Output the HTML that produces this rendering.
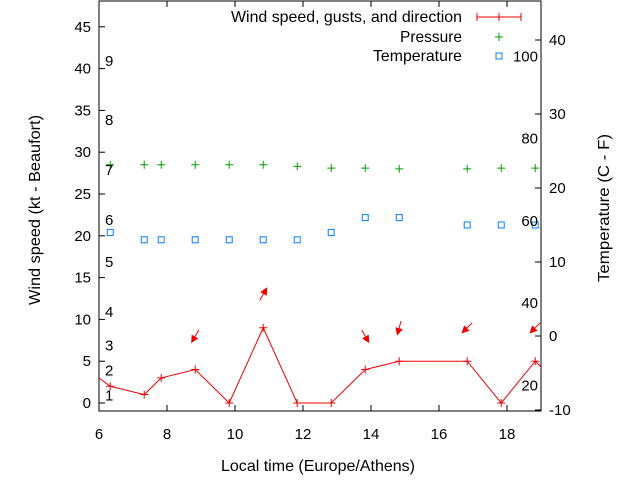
<!DOCTYPE html>
<html><head><meta charset="utf-8"><style>
body{margin:0;background:#fff}
svg{display:block;font-family:"Liberation Sans",sans-serif;font-size:15px}
.big{font-size:16px}
</style></head><body>
<svg id="chart" width="640" height="480" viewBox="0 0 640 480" xmlns="http://www.w3.org/2000/svg">
<defs><clipPath id="clip"><rect x="99" y="1" width="442" height="410"/></clipPath></defs>
<rect x="99" y="1" width="442" height="410" fill="none" stroke="#000"/>
<g id="axes"></g>
<g id="marks" clip-path="url(#clip)"></g>
<g id="labels"></g>
<text class="big" x="221" y="471" textLength="194" lengthAdjust="spacingAndGlyphs">Local time (Europe/Athens)</text>
<text class="big" transform="translate(40,210) rotate(-90)" text-anchor="middle" textLength="190" lengthAdjust="spacingAndGlyphs">Wind speed (kt - Beaufort)</text>
<text class="big" transform="translate(609,208) rotate(-90)" text-anchor="middle" textLength="148" lengthAdjust="spacingAndGlyphs">Temperature (C - F)</text>
<g>
<text class="big" x="462" y="22" text-anchor="end" textLength="231" lengthAdjust="spacingAndGlyphs">Wind speed, gusts, and direction</text>
<path d="M477 17H521M477 13V21M521 13V21M499 13V21" stroke="#e00"/>
<text class="big" x="462" y="42" text-anchor="end" textLength="62" lengthAdjust="spacingAndGlyphs">Pressure</text>
<path d="M495 37H503M499 33V41" stroke="#00a000"/>
<text class="big" x="462" y="61" text-anchor="end" textLength="89" lengthAdjust="spacingAndGlyphs">Temperature</text>
<rect x="496" y="53" width="6" height="6" fill="none" stroke="#0080ff"/>
</g>
</svg>
<script>
const times=[5.83,6.33,7.33,7.83,8.83,9.83,10.83,11.83,12.83,13.83,14.83,16.83,17.83,18.83,19.33];
const windKt=[3.5,2,1,3,4,0,9,0,0,4,5,5,0,5,3];
const gustKt=[null,null,null,null,8,null,13,null,null,8,9,9,null,9,null];
const windDir=[null,null,null,null,30,null,210,null,null,330,15,45,null,45,null];
const ptTimes=[6.33,7.33,7.83,8.83,9.83,10.83,11.83,12.83,13.83,14.83,16.83,17.83,18.83];
const pressure=[28.5,28.5,28.5,28.5,28.5,28.5,28.3,28.1,28.1,28.0,28.0,28.1,28.1];
const tempC=[14,13,13,13,13,13,13,14,16,16,15,15,15];
const xTicks=[6,8,10,12,14,16,18];
const yTicks=[0,5,10,15,20,25,30,35,40,45];
const y2Ticks=[-10,0,10,20,30,40];
const beaufortKt=[1,4,7,11,17,22,28,34,41];
const fahrenheit=[20,40,60,80,100];
const X=t=>99+(t-6)*34;
const Y=v=>403-v*8.36;
const Y2=c=>336-c*7.4;
const NS="http://www.w3.org/2000/svg";
function mk(tag,attrs,parent,txt){const e=document.createElementNS(NS,tag);for(const k in attrs)e.setAttribute(k,attrs[k]);if(txt!==undefined)e.textContent=txt;document.getElementById(parent).appendChild(e);return e;}
xTicks.forEach(t=>{
 const a=mk('path',{d:`M${X(t)} 411V405M${X(t)} 1V7`,stroke:'#000'},'axes');
 
 
 const l=mk('text',{x:X(t),y:439,'text-anchor':'middle'},'labels',t);
 
 
});
yTicks.forEach(v=>{
 const a=mk('path',{d:`M99 ${Y(v)}H105`,stroke:'#000'},'axes');
 
 
 const l=mk('text',{x:91,y:Y(v)+5,'text-anchor':'end'},'labels',v);
 
 
});
y2Ticks.forEach(v=>{
 const a=mk('path',{d:`M541 ${Y2(v)}H535`,stroke:'#000'},'axes');
 
 
 const l=mk('text',{x:549,y:Y2(v)+5},'labels',v);
 
 
});
beaufortKt.forEach((k,i)=>{
 const l=mk('text',{x:105,y:Y(k)+6},'labels',i+1);
 
 
});
fahrenheit.forEach(f=>{
 const l=mk('text',{x:538,y:Y2((f-32)*5/9)+5,'text-anchor':'end'},'labels',f);
 
 
});
const line=mk('polyline',{points:times.map((t,i)=>X(t)+','+Y(windKt[i])).join(' '),fill:'none',stroke:'#e00'},'marks');


times.forEach((t,i)=>{
 const x=X(t),y=Y(windKt[i]);
 const p=mk('path',{d:`M${x-4} ${y}H${x+4}M${x} ${y-4}V${y+4}`,stroke:'#e00'},'marks');
 
 
 if(gustKt[i]!=null){
  const a=windDir[i]*Math.PI/180, cx=x, cy=Y(gustKt[i]);
  const dx=Math.sin(a)*7, dy=Math.cos(a)*7;
  const tx=cx-dx, ty=cy+dy, sx=cx+dx, sy=cy-dy;
  const ux=(tx-sx)/14, uy=(ty-sy)/14;
  const g=mk('path',{d:`M${sx} ${sy}L${tx} ${ty}M${tx} ${ty}L${tx-ux*6-uy*3} ${ty-uy*6+ux*3}L${tx-ux*6+uy*3} ${ty-uy*6-ux*3}Z`,stroke:'#e00',fill:'#e00'},'marks');
  
  
 }
});
ptTimes.forEach((t,i)=>{
 const x=X(t),y=Y(pressure[i]);
 const p=mk('path',{d:`M${x-4} ${y}H${x+4}M${x} ${y-4}V${y+4}`,stroke:'#00a000'},'marks');
 
 
 const s=mk('rect',{x:x-3,y:Y2(tempC[i])-3,width:6,height:6,fill:'none',stroke:'#0080ff'},'marks');
 
 
});
</script>
</body></html>
